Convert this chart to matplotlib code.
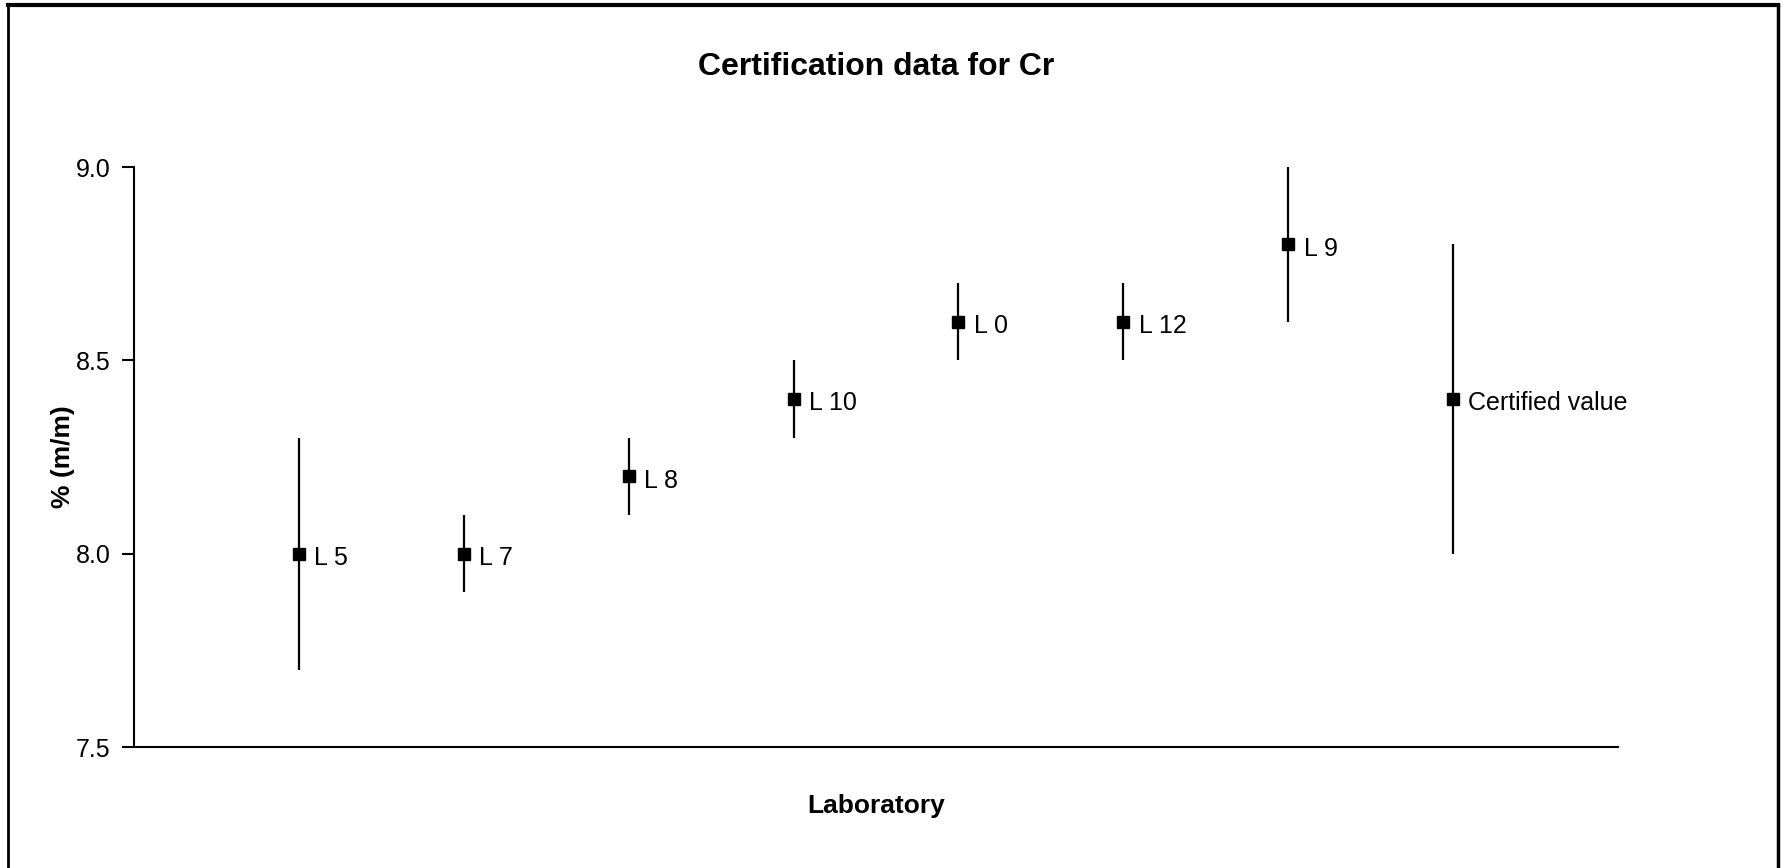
import matplotlib.pyplot as plt
from matplotlib.lines import Line2D

plt.rcParams['font.family'] = ['Liberation Sans Narrow', 'Liberation Sans', 'DejaVu Sans']

labels = ['L 5', 'L 7', 'L 8', 'L 10', 'L 0', 'L 12', 'L 9', 'Certified value']
values = [8.0, 8.0, 8.2, 8.4, 8.6, 8.6, 8.8, 8.4]
errors = [0.3, 0.1, 0.1, 0.1, 0.1, 0.1, 0.2, 0.4]
yticks = [7.5, 8.0, 8.5, 9.0]

fig = plt.figure(figsize=(17.85, 8.68), dpi=100)
ax = fig.add_axes([134 / 1785, 1 - 747 / 868, (1618 - 134) / 1785, (747 - 167) / 868])

x = list(range(1, len(values) + 1))
ax.errorbar(x, values, yerr=errors, fmt='s', color='black', ms=8,
            elinewidth=1.6, capsize=0)
for xi, yi, lab in zip(x, values, labels):
    ax.annotate(lab, (xi, yi), xytext=(11, -3), textcoords='offset points',
                va='center', ha='left', fontsize=18)

ax.set_xlim(0, 9)
ax.set_ylim(7.5, 9.0)
ax.set_yticks(yticks)
ax.set_yticklabels([f'{v:.1f}' for v in yticks], fontsize=18)
ax.set_xticks([])
ax.tick_params(axis='y', length=9, width=1.5, direction='out', pad=8)
for s in ['top', 'right']:
    ax.spines[s].set_visible(False)
for s in ['left', 'bottom']:
    ax.spines[s].set_linewidth(1.5)

ax.set_title('Certification data for Cr', fontsize=23, fontweight='bold', y=1.145)
ax.set_ylabel('% (m/m)', fontsize=19, fontweight='bold')
ax.yaxis.set_label_coords(-0.0397, 0.5)
ax.set_xlabel('Laboratory', fontsize=19, fontweight='bold')
ax.xaxis.set_label_coords(0.5, -0.081)

# outer frame
fig.add_artist(Line2D([8 / 1785, 1778 / 1785], [1 - 5 / 868, 1 - 5 / 868], color='black', lw=3))
fig.add_artist(Line2D([8 / 1785, 8 / 1785], [0, 1 - 5 / 868], color='black', lw=2))
fig.add_artist(Line2D([1778 / 1785, 1778 / 1785], [0, 1 - 5 / 868], color='black', lw=2.5))

fig.savefig('out.png', dpi=100)
